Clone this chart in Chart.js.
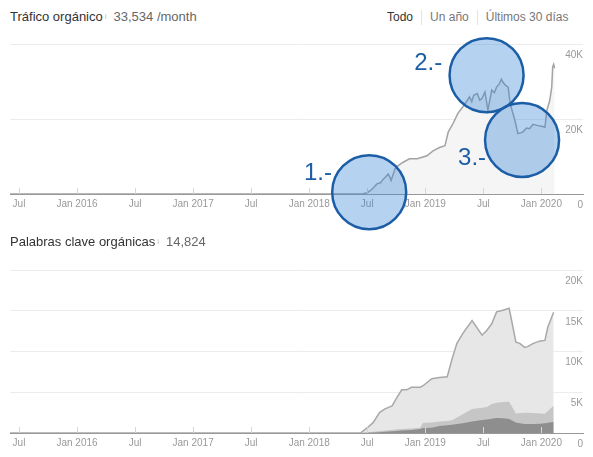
<!DOCTYPE html>
<html>
<head>
<meta charset="utf-8">
<script src="https://cdn.jsdelivr.net/npm/chart.js@4.4.0/dist/chart.umd.min.js"></script>
<style>
  body { margin: 0; background: #fff; font-family: "Liberation Sans", Arial, sans-serif; }
  #page { position: relative; width: 593px; height: 457px; overflow: hidden; }
  .head { position: absolute; left: 10px; font-size: 13px; color: #333; white-space: nowrap; line-height: 16px; }
  .head .info { font-size: 8px; color: #bbb; vertical-align: top; margin: 0 7px 0 2px; }
  .head .val { color: #666; }
  .range { position: absolute; top: 10px; left: 387px; font-size: 12px; color: #777; white-space: nowrap; }
  .range span { display: inline-block; padding: 0 8px; line-height: 15px; border-left: 1px solid #e3e3e3; }
  .range span:first-child { padding-left: 0; border-left: none; color: #333; }
  canvas { position: absolute; left: 0; }
</style>
</head>
<body>
<div id="page">
  <div class="head" style="top:9px">Tráfico orgánico<span class="info">i</span><span class="val">33,534 /month</span></div>
  <div class="range"><span>Todo</span><span>Un año</span><span>Últimos 30 días</span></div>
  <canvas id="traffic-chart" width="593" height="210" style="top:25px"></canvas>

  <div class="head" style="top:234px">Palabras clave orgánicas<span class="info">i</span><span class="val">14,824</span></div>
  <canvas id="keywords-chart" width="593" height="200" style="top:255px"></canvas>
</div>

<script>
// Shared x axis ticks (every six months)
const xTickDates = ['2015-07-01', '2016-01-01', '2016-07-01', '2017-01-01', '2017-07-01',
    '2018-01-01', '2018-07-01', '2019-01-01', '2019-07-01', '2020-01-01'];
const xTickLabels = ['Jul', 'Jan 2016', 'Jul', 'Jan 2017', 'Jul', 'Jan 2018', 'Jul', 'Jan 2019', 'Jul', 'Jan 2020'];

// Organic traffic
const trafficDates = ['2015-06-01', '2018-06-15', '2018-07-01', '2018-07-15', '2018-08-01', '2018-08-12',
    '2018-08-20', '2018-08-26', '2018-09-06', '2018-09-12', '2018-09-15', '2018-09-27', '2018-10-06',
    '2018-10-21', '2018-11-12', '2018-12-06', '2019-01-06', '2019-01-25', '2019-02-15', '2019-03-02',
    '2019-03-12', '2019-03-27', '2019-04-12', '2019-04-27', '2019-05-10', '2019-05-18', '2019-05-25',
    '2019-06-01', '2019-06-12', '2019-06-20', '2019-06-27', '2019-07-06', '2019-07-12', '2019-07-15',
    '2019-07-27', '2019-08-05', '2019-08-12', '2019-08-20', '2019-08-27', '2019-09-02', '2019-09-09',
    '2019-09-18', '2019-09-24', '2019-10-09', '2019-10-18', '2019-11-03', '2019-11-15', '2019-11-24',
    '2019-12-05', '2019-12-18', '2020-01-05', '2020-01-12', '2020-01-18', '2020-01-27', '2020-02-03',
    '2020-02-06', '2020-02-09', '2020-02-12'];
const trafficValues = [0, 0, 350, 1200, 2700, 3000, 3900, 4400, 5300, 4300, 3600, 6700, 7500,
    8400, 9400, 9400, 10200, 11500, 12400, 12900, 16500, 18800, 21500, 23200, 24800, 25900, 24600,
    26300, 26800, 25000, 25500, 27200, 24000, 22300, 27700, 27000, 28500, 29300, 30600, 29800, 29000,
    28500, 24100, 19600, 16100, 16500, 17600, 17400, 18600, 18300, 18000, 17800, 22300, 25000, 28500,
    33900, 34600, 33534];
const trafficTicks = [0, 20000, 40000];

// Highlighted zones on the traffic chart
const highlightNames = ['1.-', '2.-', '3.-'];
const highlightDates = ['2018-07-07', '2019-07-11', '2019-11-01'];
const highlightValues = [500, 31700, 14400];
const highlightNameDates = ['2018-01-28', '2019-01-10', '2019-05-26'];
const highlightNameValues = [5600, 34900, 9400];

// Organic keywords (cumulative by position group)
const keywordDates = ['2015-06-01', '2018-06-10', '2018-07-01', '2018-07-19', '2018-08-09', '2018-08-26',
    '2018-09-18', '2018-10-03', '2018-10-18', '2018-11-03', '2018-11-18', '2018-12-15', '2018-12-24',
    '2019-01-21', '2019-02-15', '2019-03-09', '2019-03-24', '2019-04-09', '2019-04-27', '2019-05-26',
    '2019-06-27', '2019-07-12', '2019-07-27', '2019-08-12', '2019-09-02', '2019-09-21', '2019-10-12',
    '2019-10-24', '2019-11-09', '2019-11-18', '2019-12-06', '2019-12-27', '2020-01-12', '2020-01-21',
    '2020-02-09'];
const keywordsTotal = [0, 0, 650, 1270, 2500, 2960, 3330, 4360, 5300, 5300, 5600, 5600, 5800,
    6670, 6800, 6900, 9100, 11000, 12200, 13800, 12000, 12600, 13400, 14860, 15070, 15300, 11150,
    11000, 10500, 10600, 11000, 11300, 11360, 13000, 14824];
const keywordsMid = [0, 0, 80, 150, 250, 320, 380, 450, 500, 520, 560, 650, 1270,
    1300, 1400, 1480, 1550, 1900, 2300, 2950, 3100, 3200, 3560, 3700, 3800, 3830, 2400,
    2450, 2500, 2500, 2450, 2400, 2350, 2700, 3330];
const keywordsTop = [0, 0, 30, 60, 100, 150, 200, 250, 300, 330, 380, 500, 600,
    650, 860, 950, 1000, 1100, 1200, 1400, 1600, 1650, 1750, 1850, 1800, 1730, 1300,
    1200, 1100, 1100, 1100, 1150, 1200, 1250, 1360];
const keywordTicks = [0, 5000, 10000, 15000, 20000];

// months since Jan 2015
function monthIndex(d) {
    const [y, m, day] = d.split('-').map(Number);
    return (y - 2015) * 12 + (m - 1) + (day - 1) / 30;
}

function points(dates, values) {
    return dates.map((d, i) => ({ x: monthIndex(d), y: values[i] }));
}

function kFormat(v) {
    return v === 0 ? '0' : (v / 1000) + 'K';
}

Chart.defaults.font.family = '"Liberation Sans", Arial, sans-serif';
Chart.defaults.font.size = 10;
Chart.defaults.color = '#999';

const xAxis = {
    type: 'linear',
    min: 5.07,
    max: 64.3,
    afterBuildTicks: (scale) => { scale.ticks = xTickDates.map(d => ({ value: monthIndex(d) })); },
    ticks: {
        padding: 4,
        maxRotation: 0,
        autoSkip: false,
        callback: (v, i) => xTickLabels[i],
    },
    grid: { display: false, drawTicks: false },
    border: { color: '#999' },
};

function yAxis(max, tickValues) {
    return {
        position: 'right',
        min: 0,
        max: max,
        afterBuildTicks: (scale) => { scale.ticks = tickValues.map(v => ({ value: v })); },
        ticks: { mirror: true, padding: 0, labelOffset: 11, callback: kFormat },
        grid: { color: '#ececec', drawTicks: false },
        border: { display: false },
    };
}

// small tick marks just above the x axis line
const tickMarks = {
    id: 'tickMarks',
    afterDatasetsDraw(chart) {
        const x = chart.scales.x;
        const ctx = chart.ctx;
        const bottom = chart.chartArea.bottom;
        ctx.save();
        ctx.strokeStyle = '#d6d6d6';
        ctx.lineWidth = 1;
        x.ticks.forEach(t => {
            const px = Math.round(x.getPixelForValue(t.value)) + 0.5;
            ctx.beginPath();
            ctx.moveTo(px, bottom - 6);
            ctx.lineTo(px, bottom);
            ctx.stroke();
        });
        ctx.restore();
    }
};

// blue circles with their numbers
const highlights = {
    id: 'highlights',
    afterDraw(chart) {
        const { ctx, scales: { x, y } } = chart;
        ctx.save();
        highlightNames.forEach((name, i) => {
            const cx = x.getPixelForValue(monthIndex(highlightDates[i]));
            const cy = y.getPixelForValue(highlightValues[i]);
            ctx.beginPath();
            ctx.arc(cx, cy, 37, 0, Math.PI * 2);
            ctx.fillStyle = 'rgba(50, 130, 215, 0.36)';
            ctx.fill();
            ctx.lineWidth = 2.5;
            ctx.strokeStyle = '#1c5ea6';
            ctx.stroke();

            ctx.fillStyle = '#1c5ea6';
            ctx.font = '24px "Liberation Sans", Arial, sans-serif';
            ctx.textAlign = 'center';
            ctx.textBaseline = 'middle';
            ctx.fillText(name, x.getPixelForValue(monthIndex(highlightNameDates[i])),
                y.getPixelForValue(highlightNameValues[i]));
        });
        ctx.restore();
    }
};

const common = {
    responsive: false,
    animation: false,
    plugins: { legend: { display: false }, tooltip: { enabled: false } },
    elements: { point: { radius: 0 }, line: { tension: 0 } },
};

document.addEventListener('DOMContentLoaded', function () {
    new Chart(document.getElementById('traffic-chart').getContext('2d'), {
        type: 'line',
        data: {
            datasets: [{
                data: points(trafficDates, trafficValues),
                borderColor: '#a3a3a3',
                borderWidth: 1.5,
                backgroundColor: '#f5f5f5',
                fill: 'origin',
            }],
        },
        options: Object.assign({}, common, {
            layout: { padding: { left: 10, right: 10, top: 19, bottom: 21 } },
            scales: { x: xAxis, y: yAxis(40000, trafficTicks) },
        }),
        plugins: [tickMarks, highlights],
    });

    new Chart(document.getElementById('keywords-chart').getContext('2d'), {
        type: 'line',
        data: {
            datasets: [
                { data: points(keywordDates, keywordsTop), borderWidth: 0, backgroundColor: '#8e8e8e', fill: 'origin' },
                { data: points(keywordDates, keywordsMid), borderWidth: 0, backgroundColor: '#c6c6c6', fill: 'origin' },
                { data: points(keywordDates, keywordsTotal), borderColor: '#a8a8a8', borderWidth: 1.5, backgroundColor: '#e7e7e7', fill: 'origin' },
            ],
        },
        options: Object.assign({}, common, {
            layout: { padding: { left: 10, right: 10, top: 15, bottom: 2 } },
            scales: { x: xAxis, y: yAxis(20000, keywordTicks) },
        }),
        plugins: [tickMarks],
    });
});
</script>
</body>
</html>
